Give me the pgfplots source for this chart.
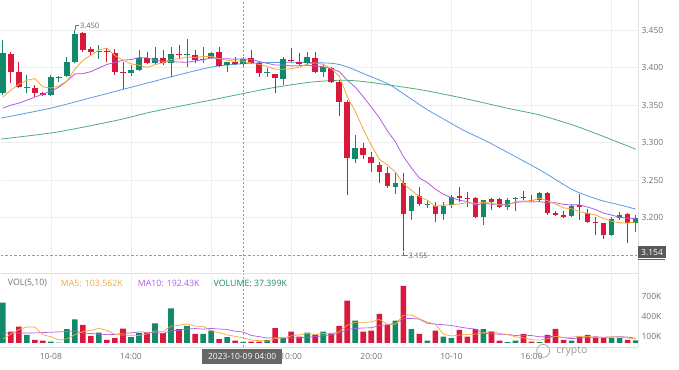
\documentclass[border=0pt]{standalone}
\usepackage{fontspec}
\setmainfont{Open Sans}
\usepackage{pgfplots}
\pgfplotsset{compat=1.18}
\definecolor{cg}{HTML}{12896A}
\definecolor{cr}{HTML}{D9183B}
\definecolor{cor}{HTML}{F2A83A}
\definecolor{cpu}{HTML}{B25CE6}
\definecolor{cbl}{HTML}{5B9BE6}
\definecolor{cgr}{HTML}{4CAF7A}
\definecolor{tgray}{HTML}{727272}
\definecolor{gridc}{HTML}{EEEEEE}
\begin{document}
\begin{tikzpicture}[x=1pt,y=1pt]
\fill[white] (0pt,0pt) rectangle (679pt,370pt);
% ---------------- price panel ----------------
\begin{axis}[
  at={(0pt,98pt)}, anchor=south west, width=638pt, height=272pt, scale only axis,
  xmin=0.75, xmax=80.3, ymin=3.1273, ymax=3.49,
  axis line style={draw=none}, tick style={draw=none},
  xtick={7,17,...,77}, xticklabels={,,,,,,,,},
  ytick={3.20,3.25,3.30,3.35,3.40,3.45},
  yticklabels={3.200,3.250,3.300,3.350,3.400,3.450},
  yticklabel pos=right,
  yticklabel style={anchor=west, font=\fontsize{8.5}{10}\selectfont, text=tgray},
  xmajorgrids, ymajorgrids, grid style={gridc, line width=0.6pt},
  clip=false,
]
% moving averages (long)
\addplot[cgr, line width=0.8pt, smooth, tension=0.4] coordinates {
(0.75,3.3047)(7.73,3.3140)(15.34,3.3300)(19.45,3.3407)(26.94,3.3567)(34.42,3.3727)(39.40,3.3807)(43.14,3.3833)(45.64,3.3820)(49.38,3.3767)(53.49,3.3700)(58.48,3.3593)(63.97,3.3460)(68.08,3.3367)(72.20,3.3233)(75.56,3.3100)(80,3.2913)};
\addplot[cbl, line width=0.8pt, smooth, tension=0.4] coordinates {
(0.75,3.3327)(6.985,3.3460)(13.22,3.3633)(19.45,3.3807)(26.94,3.4007)(31.92,3.4060)(36.91,3.4073)(41.90,3.4060)(43.77,3.4020)(46.51,3.3900)(49.38,3.3767)(53.49,3.3473)(55.61,3.3340)(58.48,3.3167)(61.85,3.2993)(68.08,3.2633)(72.20,3.2367)(75.56,3.2233)(78.06,3.2167)(80,3.2113)};
% wicks green
\addplot[cg, line width=0.9pt, unbounded coords=jump] coordinates {
(1,3.3633)(1,3.4367)(1,nan) (4,3.3660)(4,3.3900)(4,nan) (7,3.3620)(7,3.3900)(7,nan) (8,3.3807)(8,3.3887)(8,nan)
(9,3.3873)(9,3.4140)(9,nan) (10,3.4060)(10,3.4500)(10,nan) (13,3.4113)(13,3.4300)(13,nan) (17,3.3887)(17,3.4033)(17,nan)
(18,3.3960)(18,3.4233)(18,nan) (20,3.4053)(20,3.4273)(20,nan) (22,3.3873)(22,3.4273)(22,nan) (24,3.4007)(24,3.4380)(24,nan)
(26,3.4060)(26,3.4273)(26,nan) (27,3.4120)(27,3.4207)(27,nan) (29,3.3940)(29,3.4080)(29,nan) (31,3.4007)(31,3.4140)(31,nan)
(34,3.3873)(34,3.3993)(34,nan) (36,3.3767)(36,3.4140)(36,nan) (39,3.4033)(39,3.4207)(39,nan) (41,3.3873)(41,3.4033)(41,nan)
(45,3.2727)(45,3.3100)(45,nan) (50,3.2313)(50,3.2593)(50,nan) (52,3.1967)(52,3.2300)(52,nan) (54,3.2127)(54,3.2233)(54,nan)
(56,3.1967)(56,3.2207)(56,nan) (57,3.2127)(57,3.2300)(57,nan) (61,3.1900)(61,3.2240)(61,nan) (64,3.2100)(64,3.2260)(64,nan)
(65,3.2087)(65,3.2273)(65,nan) (68,3.2207)(68,3.2340)(68,nan) (72,3.2007)(72,3.2180)(72,nan) (77,3.1760)(77,3.2007)(77,nan)
(78,3.1967)(78,3.2073)(78,nan) (80,3.1807)(80,3.2033)};
% wicks red
\addplot[cr, line width=0.9pt, unbounded coords=jump] coordinates {
(2,3.3793)(2,3.4207)(2,nan) (3,3.3727)(3,3.4073)(3,nan) (5,3.3607)(5,3.3767)(5,nan) (6,3.3620)(6,3.3673)(6,nan)
(11,3.4207)(11,3.4473)(11,nan) (12,3.4167)(12,3.4273)(12,nan) (14,3.4073)(14,3.4260)(14,nan) (15,3.3900)(15,3.4247)(15,nan)
(16,3.3713)(16,3.4073)(16,nan) (19,3.4047)(19,3.4207)(19,nan) (21,3.4033)(21,3.4233)(21,nan) (23,3.4113)(23,3.4300)(23,nan)
(25,3.4060)(25,3.4233)(25,nan) (28,3.4007)(28,3.4273)(28,nan) (30,3.4033)(30,3.4140)(30,nan) (32,3.4047)(32,3.4233)(32,nan)
(33,3.3873)(33,3.4073)(33,nan) (35,3.3660)(35,3.3920)(35,nan) (37,3.4073)(37,3.4260)(37,nan) (38,3.4033)(38,3.4193)(38,nan)
(40,3.3927)(40,3.4207)(40,nan) (42,3.3793)(42,3.4007)(42,nan) (43,3.3353)(43,3.3833)(43,nan) (44,3.2300)(44,3.3567)(44,nan)
(46,3.2780)(46,3.2993)(46,nan) (47,3.2607)(47,3.2873)(47,nan) (48,3.2460)(48,3.2740)(48,nan) (49,3.2393)(49,3.2673)(49,nan)
(51,3.1550)(51,3.2593)(51,nan) (53,3.2153)(53,3.2407)(53,nan) (55,3.1940)(55,3.2207)(55,nan) (58,3.2207)(58,3.2407)(58,nan)
(59,3.2140)(59,3.2340)(59,nan) (60,3.1993)(60,3.2273)(60,nan) (62,3.2100)(62,3.2260)(62,nan) (63,3.2127)(63,3.2260)(63,nan)
(66,3.2233)(66,3.2353)(66,nan) (67,3.2207)(67,3.2300)(67,nan) (69,3.2033)(69,3.2340)(69,nan) (70,3.2020)(70,3.2087)(70,nan)
(71,3.1993)(71,3.2087)(71,nan) (73,3.1967)(73,3.2313)(73,nan) (74,3.1927)(74,3.2113)(74,nan) (75,3.1767)(75,3.2007)(75,nan)
(76,3.1713)(76,3.1933)(76,nan) (79,3.1660)(79,3.2060)};
% bodies green (open, close)
\addplot[cg, line width=5.6pt, unbounded coords=jump] coordinates {
(1,3.3660)(1,3.4193)(1,nan) (4,3.3727)(4,3.3740)(4,nan) (7,3.3633)(7,3.3873)(7,nan) (8,3.3860)(8,3.3873)(8,nan)
(9,3.3887)(9,3.4073)(9,nan) (10,3.4073)(10,3.4447)(10,nan) (13,3.4207)(13,3.4220)(13,nan) (17,3.3927)(17,3.3967)(17,nan)
(18,3.3967)(18,3.4127)(18,nan) (20,3.4060)(20,3.4127)(20,nan) (22,3.4060)(22,3.4180)(22,nan) (24,3.4167)(24,3.4180)(24,nan)
(26,3.4100)(26,3.4113)(26,nan) (27,3.4127)(27,3.4193)(27,nan) (29,3.4033)(29,3.4073)(29,nan) (31,3.4047)(31,3.4113)(31,nan)
(34,3.3927)(34,3.3940)(34,nan) (36,3.3847)(36,3.4113)(36,nan) (39,3.4060)(39,3.4140)(39,nan) (41,3.3940)(41,3.4007)(41,nan)
(45,3.2780)(45,3.2927)(45,nan) (50,3.2407)(50,3.2460)(50,nan) (52,3.2087)(52,3.2287)(52,nan) (54,3.2167)(54,3.2180)(54,nan)
(56,3.2047)(56,3.2153)(56,nan) (57,3.2167)(57,3.2273)(57,nan) (61,3.2007)(61,3.2233)(61,nan) (64,3.2140)(64,3.2233)(64,nan)
(65,3.2247)(65,3.2260)(65,nan) (68,3.2233)(68,3.2327)(68,nan) (72,3.2020)(72,3.2153)(72,nan) (77,3.1767)(77,3.1980)(77,nan)
(78,3.1993)(78,3.2033)(78,nan) (80,3.1927)(80,3.1993)};
% bodies red (open, close)
\addplot[cr, line width=5.6pt, unbounded coords=jump] coordinates {
(2,3.4180)(2,3.3940)(2,nan) (3,3.3940)(3,3.3740)(3,nan) (5,3.3727)(5,3.3660)(5,nan) (6,3.3660)(6,3.3633)(6,nan)
(11,3.4460)(11,3.4233)(11,nan) (12,3.4247)(12,3.4207)(12,nan) (14,3.4220)(14,3.4207)(14,nan) (15,3.4193)(15,3.3940)(15,nan)
(16,3.3940)(16,3.3927)(16,nan) (19,3.4127)(19,3.4060)(19,nan) (21,3.4127)(21,3.4060)(21,nan) (23,3.4180)(23,3.4167)(23,nan)
(25,3.4167)(25,3.4100)(25,nan) (28,3.4207)(28,3.4020)(28,nan) (30,3.4073)(30,3.4047)(30,nan) (32,3.4127)(32,3.4060)(32,nan)
(33,3.4060)(33,3.3927)(33,nan) (35,3.3913)(35,3.3860)(35,nan) (37,3.4100)(37,3.4087)(37,nan) (38,3.4073)(38,3.4047)(38,nan)
(40,3.4127)(40,3.3940)(40,nan) (42,3.3993)(42,3.3807)(42,nan) (43,3.3807)(43,3.3540)(43,nan) (44,3.3540)(44,3.2793)(44,nan)
(46,3.2927)(46,3.2833)(46,nan) (47,3.2807)(47,3.2727)(47,nan) (48,3.2700)(48,3.2607)(48,nan) (49,3.2593)(49,3.2420)(49,nan)
(51,3.2460)(51,3.2047)(51,nan) (53,3.2287)(53,3.2180)(53,nan) (55,3.2153)(55,3.2047)(55,nan) (58,3.2287)(58,3.2260)(58,nan)
(59,3.2260)(59,3.2247)(59,nan) (60,3.2260)(60,3.2007)(60,nan) (62,3.2247)(62,3.2207)(62,nan) (63,3.2247)(63,3.2140)(63,nan)
(66,3.2273)(66,3.2260)(66,nan) (67,3.2233)(67,3.2220)(67,nan) (69,3.2327)(69,3.2060)(69,nan) (70,3.2060)(70,3.2033)(70,nan)
(71,3.2033)(71,3.2007)(71,nan) (73,3.2167)(73,3.2140)(73,nan) (74,3.2060)(74,3.1940)(74,nan) (75,3.1940)(75,3.1927)(75,nan)
(76,3.1927)(76,3.1767)(76,nan) (79,3.2047)(79,3.1927)};
% MA10 (purple) and MA5 (orange)
\addplot[cpu, line width=0.8pt] coordinates {
(1,3.3460)(2,3.3500)(3,3.3527)(4,3.3567)(5,3.3607)(6,3.3647)(7,3.3687)(8,3.3740)(9,3.3820)(10,3.3917)
(11,3.3921)(12,3.3948)(13,3.3996)(14,3.4043)(15,3.4071)(16,3.4100)(17,3.4109)(18,3.4135)(19,3.4133)(20,3.4101)
(21,3.4084)(22,3.4081)(23,3.4076)(24,3.4073)(25,3.4089)(26,3.4108)(27,3.4131)(28,3.4120)(29,3.4121)(30,3.4113)
(31,3.4119)(32,3.4107)(33,3.4083)(34,3.4059)(35,3.4035)(36,3.4035)(37,3.4024)(38,3.4027)(39,3.4033)(40,3.4023)
(41,3.4012)(42,3.3987)(43,3.3948)(44,3.3833)(45,3.3740)(46,3.3612)(47,3.3476)(48,3.3332)(49,3.3160)(50,3.3012)
(51,3.2816)(52,3.2664)(53,3.2528)(54,3.2467)(55,3.2379)(56,3.2311)(57,3.2265)(58,3.2231)(59,3.2213)(60,3.2168)
(61,3.2187)(62,3.2179)(63,3.2175)(64,3.2180)(65,3.2201)(66,3.2212)(67,3.2207)(68,3.2213)(69,3.2195)(70,3.2197)
(71,3.2175)(72,3.2169)(73,3.2169)(74,3.2140)(75,3.2107)(76,3.2057)(77,3.2033)(78,3.2004)(79,3.1991)(80,3.1987)};
\addplot[cor, line width=0.8pt] coordinates {
(1,3.3607)(2,3.3700)(3,3.3780)(4,3.3833)(5,3.3855)(6,3.3743)(7,3.3729)(8,3.3756)(9,3.3823)(10,3.3980)
(11,3.4100)(12,3.4167)(13,3.4236)(14,3.4263)(15,3.4161)(16,3.4100)(17,3.4052)(18,3.4033)(19,3.4004)(20,3.4041)
(21,3.4068)(22,3.4111)(23,3.4119)(24,3.4143)(25,3.4137)(26,3.4148)(27,3.4151)(28,3.4121)(29,3.4100)(30,3.4089)
(31,3.4089)(32,3.4063)(33,3.4044)(34,3.4017)(35,3.3980)(36,3.3980)(37,3.3985)(38,3.4009)(39,3.4049)(40,3.4065)
(41,3.4044)(42,3.3988)(43,3.3887)(44,3.3617)(45,3.3415)(46,3.3180)(47,3.2964)(48,3.2777)(49,3.2703)(50,3.2609)
(51,3.2452)(52,3.2364)(53,3.2279)(54,3.2231)(55,3.2148)(56,3.2169)(57,3.2167)(58,3.2183)(59,3.2196)(60,3.2188)
(61,3.2204)(62,3.2191)(63,3.2167)(64,3.2164)(65,3.2215)(66,3.2220)(67,3.2223)(68,3.2260)(69,3.2225)(70,3.2180)
(71,3.2129)(72,3.2116)(73,3.2079)(74,3.2055)(75,3.2033)(76,3.1985)(77,3.1951)(78,3.1929)(79,3.1927)(80,3.1940)};
% crosshair
\addplot[black!40, line width=0.6pt, dash pattern=on 2pt off 2pt] coordinates {(31,3.1273)(31,3.49)};
\addplot[black!40, line width=0.6pt, dash pattern=on 2.5pt off 2pt] coordinates {(0.75,3.1500)(80.3,3.1500)};
\coordinate (hi) at (axis cs:10,3.4510);
\coordinate (lo) at (axis cs:51,3.1545);
\end{axis}
% high / low markers
\draw[black!55, line width=0.5pt] (hi) -- ++(0pt,4pt) -- ++(4pt,0pt)
  node[right, inner sep=1pt, text=black!60, font=\fontsize{7.5}{8}\selectfont] {3.450};
\draw[black!55, line width=0.5pt] (lo) -- ++(0pt,-4pt) -- ++(4pt,0pt)
  node[right, inner sep=1pt, text=black!60, font=\fontsize{7.5}{8}\selectfont] {3.155};
% ---------------- volume panel ----------------
\begin{axis}[
  at={(0pt,23pt)}, anchor=south west, width=638pt, height=74pt, scale only axis,
  xmin=0.75, xmax=80.3, ymin=-60, ymax=1050,
  axis line style={draw=none}, tick style={draw=none},
  xtick={7,17,...,77},
  xticklabels={10-08,14:00,,10:00,20:00,10-10,16:00,},
  xticklabel style={font=\fontsize{8.5}{10}\selectfont, text=tgray, yshift=-3pt},
  ytick={100,400,700}, yticklabels={100K,400K,700K},
  yticklabel pos=right,
  yticklabel style={anchor=west, font=\fontsize{8.5}{10}\selectfont, text=tgray},
  xmajorgrids, grid style={gridc, line width=0.6pt},
  clip=false,
]
\addplot[ybar, bar width=5.6pt, bar shift=0pt, fill=cg, draw=none] coordinates {
(1,605)(4,120)(7,20)(8,5)(9,205)(10,355)(13,155)(17,85)(18,145)(20,295)(22,520)(24,255)(26,135)(27,185)(29,85)(31,15)(34,45)
(36,70)(39,155)(41,170)(45,335)(50,335)(52,205)(54,35)(56,95)(57,70)(61,205)(64,10)(65,35)(68,10)(72,35)(77,75)(78,75)(80,37)};
\addplot[ybar, bar width=5.6pt, bar shift=0pt, fill=cr, draw=none] coordinates {
(2,170)(3,245)(5,45)(6,35)(11,270)(12,105)(14,45)(15,70)(16,215)(19,155)(21,145)(23,205)(25,135)(28,55)(30,35)(32,20)(33,20)
(35,220)(37,170)(38,95)(40,120)(42,145)(43,255)(44,635)(46,170)(47,185)(48,435)(49,270)(51,855)(53,135)(55,185)(58,195)(59,95)
(60,205)(62,170)(63,35)(66,135)(67,20)(69,120)(70,210)(71,45)(73,95)(74,120)(75,95)(76,75)(79,45)};
\addplot[cpu, line width=0.7pt] coordinates {
(1,150)(2,150)(3,150)(4,150)(5,150)(6,155)(7,160)(8,165)(9,172)(10,180.5)
(11,147)(12,140.5)(13,131.5)(14,124)(15,126.5)(16,144.5)(17,151)(18,165)(19,160)(20,154)
(21,141.5)(22,183)(23,188)(24,209)(25,215.5)(26,207.5)(27,217.5)(28,208.5)(29,201.5)(30,175.5)
(31,162.5)(32,112.5)(33,94)(34,73)(35,81.5)(36,75)(37,73.5)(38,77.5)(39,84.5)(40,93)
(41,108.5)(42,121)(43,144.5)(44,203.5)(45,215)(46,225)(47,226.5)(48,260.5)(49,272)(50,293.5)
(51,362)(52,368)(53,356)(54,296)(55,281)(56,273.5)(57,262)(58,238)(59,220.5)(60,207.5)
(61,142.5)(62,139)(63,129)(64,126.5)(65,111.5)(66,115.5)(67,110.5)(68,92)(69,94.5)(70,95)
(71,79)(72,65.5)(73,71.5)(74,82.5)(75,88.5)(76,82.5)(77,88)(78,94.5)(79,87)(80,69.5)};
\addplot[cor, line width=0.7pt] coordinates {
(1,60)(2,130)(3,200)(4,240)(5,237)(6,123)(7,93)(8,45)(9,62)(10,124)
(11,171)(12,188)(13,218)(14,186)(15,129)(16,118)(17,114)(18,112)(19,134)(20,179)
(21,165)(22,252)(23,264)(24,284)(25,252)(26,250)(27,183)(28,153)(29,119)(30,99)
(31,75)(32,42)(33,35)(34,27)(35,64)(36,75)(37,105)(38,120)(39,142)(40,122)
(41,142)(42,137)(43,169)(44,265)(45,308)(46,308)(47,316)(48,352)(49,279)(50,279)
(51,416)(52,420)(53,360)(54,313)(55,283)(56,131)(57,104)(58,116)(59,128)(60,132)
(61,154)(62,174)(63,142)(64,125)(65,91)(66,77)(67,47)(68,42)(69,64)(70,99)
(71,81)(72,84)(73,101)(74,101)(75,78)(76,84)(77,92)(78,88)(79,73)(80,61)};
\addplot[black!40, line width=0.6pt, dash pattern=on 2pt off 2pt] coordinates {(31,-60)(31,1050)};
\end{axis}
% panel separators
\draw[black!12, line width=0.6pt] (0pt,97pt) -- (638pt,97pt);
\draw[black!12, line width=0.6pt] (0pt,23pt) -- (638pt,23pt);
\draw[black!12, line width=0.6pt] (638pt,23pt) -- (638pt,370pt);
% volume legend
\node[anchor=west, inner sep=0, text=tgray, font=\fontsize{8.8}{10}\selectfont] at (7pt,87pt) {VOL(5,10)};
\node[anchor=west, inner sep=0, text=cor, font=\fontsize{8.8}{10}\selectfont] at (60pt,87pt) {MA5: 103.562K};
\node[anchor=west, inner sep=0, text=cpu, font=\fontsize{8.8}{10}\selectfont] at (137pt,87pt) {MA10: 192.43K};
\node[anchor=west, inner sep=0, text=cg, font=\fontsize{8.8}{10}\selectfont] at (213pt,87pt) {VOLUME: 37.399K};
% crosshair labels
\node[fill=black!65, text=white, inner sep=0, minimum width=28pt, minimum height=11.5pt,
  font=\fontsize{8.5}{10}\selectfont] at (652pt,118pt) {3.154};
\draw[cg, line width=1.2pt] (638pt,110.5pt) -- (665pt,110.5pt);
\node[fill=black!60, text=white, inner sep=0, minimum width=80pt, minimum height=15pt,
  font=\fontsize{8.5}{10}\selectfont] at (241.7pt,13.5pt) {2023-10-09 04:00};
% watermark
\draw[black!35, line width=0.8pt] (543pt,19pt) circle (6.5pt);
\node[anchor=west, inner sep=0, text=black!40, font=\fontsize{10.5}{12}\selectfont] at (556pt,19pt) {crypto};
\end{tikzpicture}
\end{document}
